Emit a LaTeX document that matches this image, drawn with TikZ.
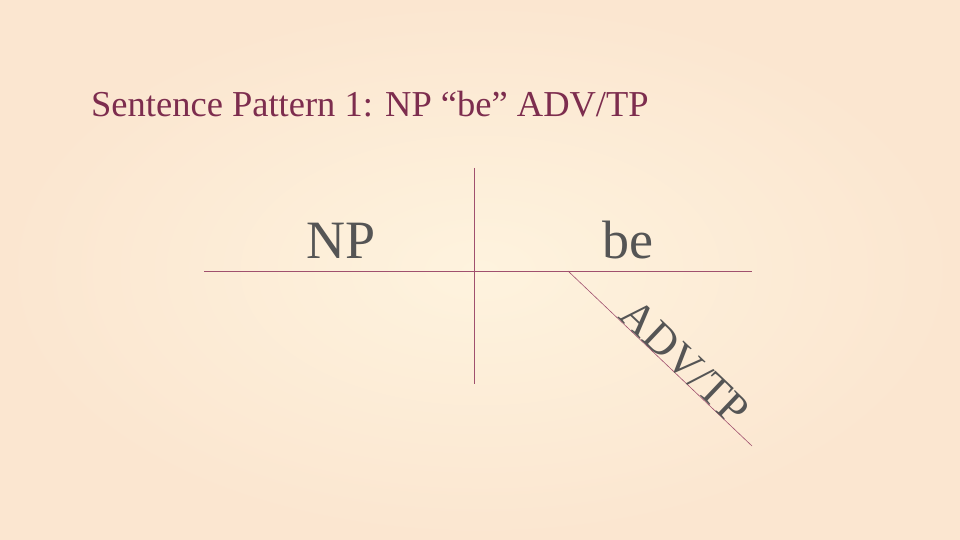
\documentclass[tikz,border=0pt]{standalone}
\usepackage{fontspec}
\setmainfont{Liberation Serif}
\definecolor{titlered}{RGB}{125,45,78}
\definecolor{linered}{RGB}{160,80,110}
\definecolor{wordgray}{RGB}{85,85,85}
\definecolor{peachin}{RGB}{254,243,222}
\definecolor{peachout}{RGB}{251,230,208}
\begin{document}
\begin{tikzpicture}[x=1pt,y=-1pt,
   rule/.style={linered, line width=0.8pt},
   word/.style={wordgray, inner sep=0pt, anchor=base, font=\fontsize{54}{60}\selectfont}]
   \shade[inner color=peachin, outer color=peachout] (0,0) rectangle (960,540);
   \useasboundingbox (0,0) rectangle (960,540);

   \node[titlered, anchor=base west, inner sep=0pt, font=\fontsize{36.5}{40}\selectfont] (title) at (91,117) {Sentence Pattern 1: NP “be” ADV/TP};

   % base line, divider and slant
   \coordinate (baseL) at (204,271);
   \coordinate (baseR) at (752,271);
   \coordinate (divT) at (474,168);
   \coordinate (divB) at (474,384);
   \coordinate (slantT) at (568,271);
   \coordinate (slantB) at (752,446);
   \draw[rule] (baseL) -- (baseR);
   \draw[rule] (divT) -- (divB);
   \draw[rule, line width=0.6pt] (slantT) -- (slantB)
      node[word, pos=0.58, sloped, font=\fontsize{44}{50}\selectfont] (adv) {ADV/TP};

   \node[word] (np) at (341,258) {NP};
   \node[word] (be) at (628,258) {be};
\end{tikzpicture}
\end{document}
